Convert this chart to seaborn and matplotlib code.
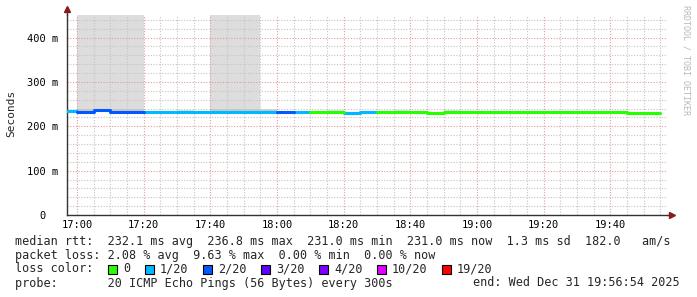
import pandas as pd
import matplotlib
matplotlib.use("Agg")
import matplotlib.pyplot as plt
from matplotlib.patches import Rectangle
from matplotlib.ticker import MultipleLocator
import seaborn as sns

# 5-minute intervals, minutes relative to 17:00
starts = [-5, 0, 5, 10, 15, 20, 25, 30, 35, 40, 45, 50, 55, 60, 65, 70, 75, 80,
          85, 90, 95, 100, 105, 110, 115, 120, 125, 130, 135, 140, 145, 150, 155, 160, 165, 170]
median_ms = [235.5, 232.5, 236.8, 231.5, 232.0, 233.0, 233.0, 233.0, 233.0, 233.0, 233.0, 233.0,
             233.0, 232.5, 232.5, 232.0, 232.0, 230.5, 232.0, 232.0, 232.0, 232.0, 231.0, 232.0,
             231.5, 231.5, 231.5, 231.5, 231.5, 231.5, 231.5, 231.5, 231.5, 231.5, 231.0, 231.0]
loss = ["1/20", "2/20", "2/20", "2/20", "2/20", "1/20", "1/20", "1/20", "1/20", "1/20", "1/20", "1/20",
        "1/20", "2/20", "1/20", "0", "0", "1/20", "1/20", "0", "0", "0", "0", "0",
        "0", "0", "0", "0", "0", "0", "0", "0", "0", "0", "0", "0"]
smoke_hi = [236.0, 470.0, 470.0, 470.0, 470.0, 235.0, 235.0, 236.0, 235.5, 470.0, 470.0, 470.0,
            239.0, 233.0, 233.0, 232.5, 237.0, 231.0, 232.5, 232.5, 237.0, 232.5, 231.5, 237.0,
            232.0, 232.0, 232.0, 232.0, 232.0, 232.0, 232.0, 232.0, 232.0, 232.0, 231.5, 231.5]
smoke_core = [236.0, 239.0, 239.5, 238.5, 239.0, 234.0, 234.0, 235.0, 235.0, 238.0, 238.0, 238.0,
              237.0, 233.0, 233.0, 232.5, 235.0, 231.0, 232.5, 232.5, 235.0, 232.5, 231.5, 235.0,
              232.0, 232.0, 232.0, 232.0, 232.0, 232.0, 232.0, 232.0, 232.0, 232.0, 231.5, 231.5]

loss_labels = ["0", "1/20", "2/20", "3/20", "4/20", "10/20", "19/20"]
loss_colors = ["#26ff00", "#00b8ff", "#0059ff", "#5e00ff", "#7e00ff", "#dd00ff", "#ff0000"]
xtick_labels = ["17:00", "17:20", "17:40", "18:00", "18:20", "18:40", "19:00", "19:20", "19:40"]
ytick_labels = ["0  ", "100 m", "200 m", "300 m", "400 m"]

sns.set_theme(style="white")
mono = "DejaVu Sans Mono"
plt.rcParams["font.family"] = [mono, "DejaVu Sans"]

fig = plt.figure(figsize=(6.97, 2.97), dpi=100)
ax = fig.add_axes([67 / 697, 82 / 297, 600 / 697, 200 / 297])

# smoke
edges = starts + [starts[-1] + 5]
lo = [m - 1 for m in median_ms]
ax.fill_between(edges, lo + [lo[-1]], smoke_hi + [smoke_hi[-1]], step="post",
                color="#dddddd", lw=0, zorder=1)
ax.fill_between(edges, lo + [lo[-1]], smoke_core + [smoke_core[-1]], step="post",
                color="#c8c8c8", lw=0, zorder=1.1)

# median segments coloured by loss
rows = []
for i, (s, m, l) in enumerate(zip(starts, median_ms, loss)):
    rows.append({"t": s, "rtt": m, "loss": l, "seg": i})
    rows.append({"t": s + 5, "rtt": m, "loss": l, "seg": i})
df = pd.DataFrame(rows)
sns.lineplot(data=df, x="t", y="rtt", hue="loss", units="seg", estimator=None,
             palette=dict(zip(loss_labels, loss_colors)), lw=2.2, legend=False,
             ax=ax, zorder=3)

ax.set_xlim(-3, 177)
ax.set_ylim(0, 451)
ax.set_xticks(range(0, 161, 20))
ax.set_xticklabels(xtick_labels)
ax.set_yticks(range(0, 401, 100))
ax.set_yticklabels(ytick_labels)
ax.xaxis.set_minor_locator(MultipleLocator(5))
ax.yaxis.set_minor_locator(MultipleLocator(20))
ax.tick_params(which="both", length=0, labelsize=7.5, colors="black")
ax.tick_params(axis="x", pad=3.5)
ax.tick_params(axis="y", pad=6)
ax.set_xlabel("")
ax.set_ylabel("")

ax.set_axisbelow("line")
ax.grid(which="major", color="#e39b9b", ls=(0, (1, 1.5)), lw=0.8)
ax.grid(which="minor", color="#c4c4c4", ls=(0, (1, 1.5)), lw=0.8)

for side in ["top", "right"]:
    ax.spines[side].set_visible(False)
for side in ["left", "bottom"]:
    ax.spines[side].set_color("#333333")
    ax.spines[side].set_linewidth(1.0)

# axis arrows
ax.plot([0, 0], [1, 1.025], transform=ax.transAxes, color="#333333", lw=1.0, clip_on=False)
ax.plot([0], [1.03], transform=ax.transAxes, marker="^", ms=4.5, color="#8b1a1a", clip_on=False)
ax.plot([1, 1.004], [0, 0], transform=ax.transAxes, color="#333333", lw=1.0, clip_on=False)
ax.plot([1.008], [0], transform=ax.transAxes, marker=">", ms=4.5, color="#8b1a1a", clip_on=False)

fig.text(11 / 697, 1 - 113 / 297, "Seconds", rotation=90, ha="center", va="center",
         family=mono, fontsize=8)
fig.text(686 / 697, 1 - 5 / 297, "RRDTOOL / TOBI OETIKER", rotation=270, ha="center", va="top",
         family=mono, fontsize=6, color="#b8b8b8")

# legend block
fs = 8.5
x0 = 15 / 697
def line_y(py):
    return 1 - py / 297

fig.text(x0, line_y(241),
         "median rtt:  232.1 ms avg  236.8 ms max  231.0 ms min  231.0 ms now  1.3 ms sd  182.0   am/s",
         family=mono, fontsize=fs, va="center")
fig.text(x0, line_y(255),
         "packet loss: 2.08 % avg  9.63 % max  0.00 % min  0.00 % now",
         family=mono, fontsize=fs, va="center")
fig.text(x0, line_y(269), "loss color:", family=mono, fontsize=fs, va="center")
box_x = [108, 145, 203, 261, 319, 377, 442]
for bx, lab, col in zip(box_x, loss_labels, loss_colors):
    fig.patches.append(Rectangle((bx / 697, line_y(274)), 9 / 697, 9 / 297,
                                 transform=fig.transFigure, facecolor=col,
                                 edgecolor="black", lw=0.8))
    fig.text((bx + 15) / 697, line_y(269), lab, family=mono, fontsize=fs, va="center")
fig.text(x0, line_y(283), "probe:       20 ICMP Echo Pings (56 Bytes) every 300s",
         family=mono, fontsize=fs, va="center")
fig.text(680 / 697, line_y(283), "end: Wed Dec 31 19:56:54 2025",
         family=mono, fontsize=fs, va="center", ha="right")

fig.savefig("out.png", dpi=100)
